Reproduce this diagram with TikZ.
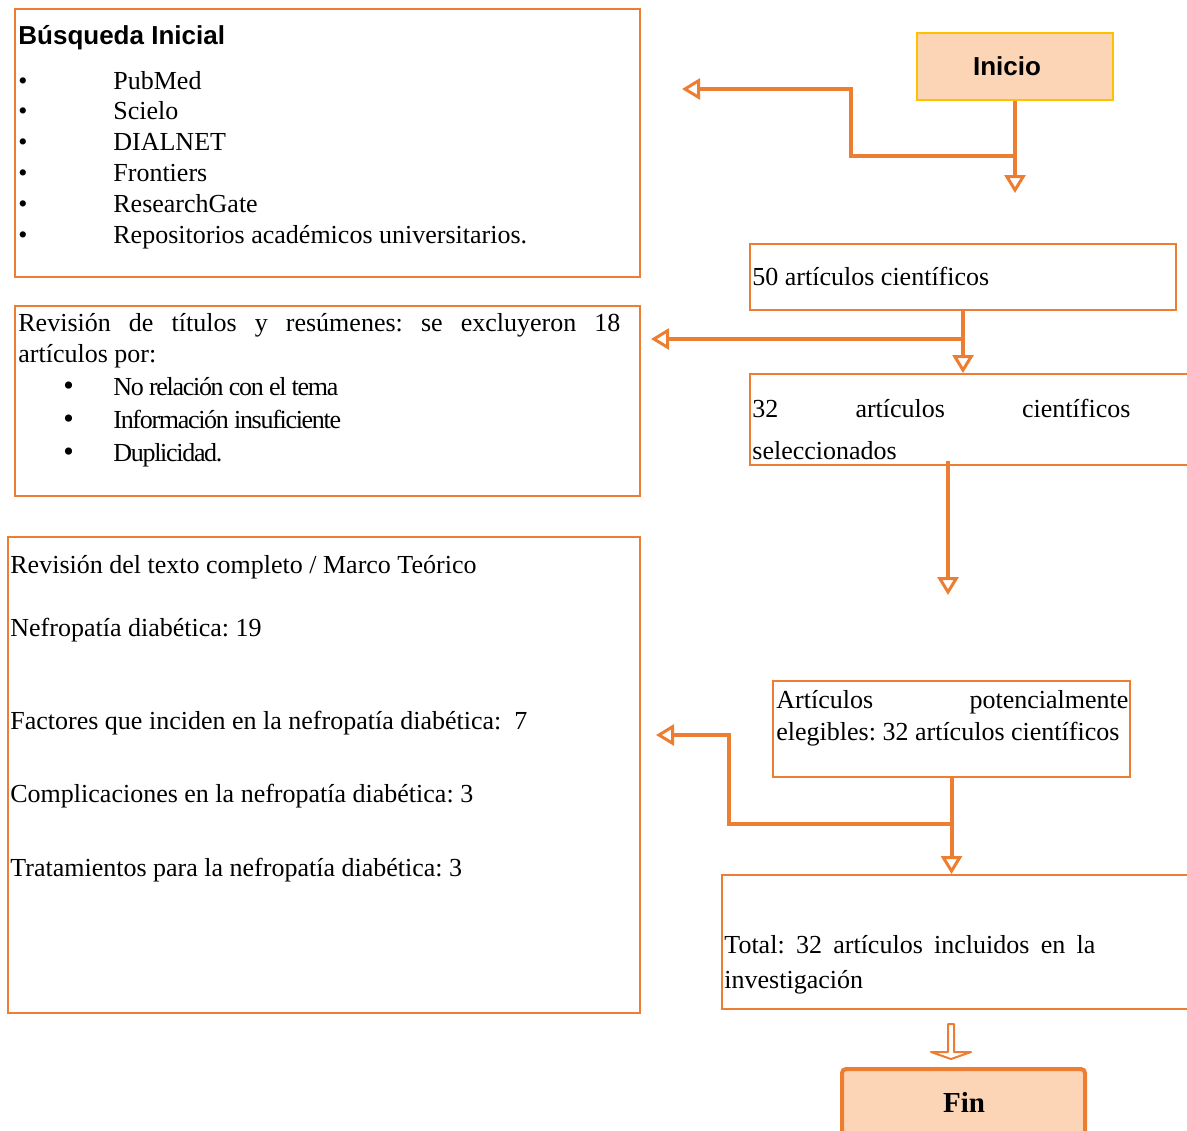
\documentclass[tikz,border=0pt]{standalone}
\usepackage{fontspec}
\setmainfont{Liberation Serif}
\newfontfamily\headsans{Liberation Sans}
\usetikzlibrary{arrows.meta, fit, calc}
\definecolor{flowline}{HTML}{ED7D31}
\definecolor{peach}{HTML}{FBD5B5}
\definecolor{gold}{HTML}{FFC000}
\frenchspacing

\begin{document}
\begin{tikzpicture}[x=0.5pt, y=-0.5pt,
    frame/.style={draw=flowline, line width=1pt, inner sep=0pt},
    terminal/.style={fill=peach, inner sep=0pt},
    txt/.style={anchor=base west, inner sep=0pt, font=\fontsize{13}{15}\selectfont},
    link/.style={draw=flowline, line width=2pt,
                 -{Triangle[open, length=9pt, width=10.5pt, line width=1.5pt]}}]
  \useasboundingbox (0,0) rectangle (1187,1130);

  % boxes
  \node[frame, fit={(15,9) (640,277)}] (search) {};
  \node[frame, fit={(15,306) (640,496)}] (titles) {};
  \node[frame, fit={(8,537) (640,1013)}] (fulltext) {};
  \node[terminal, draw=gold, line width=1pt, fit={(917,33) (1113,100)}] (start) {};
  \node[inner sep=0pt, font=\headsans\bfseries\fontsize{13}{15}\selectfont] (startlbl) at (1007,66) {Inicio};
  \node[frame, fit={(750,244) (1176,310)}] (n50) {};
  \node[frame, fit={(750,374) (1195,465)}] (n32) {};
  \node[frame, fit={(773,681) (1130,777)}] (elig) {};
  \node[frame, fit={(722,875) (1195,1009)}] (total) {};
  \node[terminal, draw=flowline, line width=2pt, rounded corners=2pt,
        fit={(842,1069) (1085,1150)}] (finish) {};
  \node[inner sep=0pt, font=\bfseries\fontsize{14.5}{16}\selectfont] (finlbl) at (964,1102) {Fin};

  % texts
  \node[txt, font=\headsans\bfseries\fontsize{13}{15}\selectfont] (searchttl) at (18,44) {Búsqueda Inicial};
  \foreach \src [count=\i] in {PubMed, Scielo, DIALNET, Frontiers, ResearchGate, Repositorios académicos universitarios.}
    \node[txt] (src\i) at (18,{89+30.8*(\i-1)}) {\makebox[47.5pt][l]{\textbullet}\src};

  \node[txt] (titl1) at (18,331) {\makebox[301pt][s]{Revisión de títulos y resúmenes: se excluyeron 18}};
  \node[txt] (titl2) at (18,362) {artículos por:};
  \foreach \why [count=\i] in {No relación con el tema, Información insuficiente, Duplicidad.}
    \node[txt] (why\i) at (63,{395+33*(\i-1)})
      {\makebox[25pt][l]{\fontsize{15}{15}\selectfont\textbullet}\addfontfeature{LetterSpace=-5}\why};

  \node[txt] (ft1) at (10,573) {Revisión del texto completo / Marco Teórico};
  \node[txt] (ft2) at (10,636) {Nefropatía diabética: 19};
  \node[txt] (ft3) at (10,729) {Factores que inciden en la nefropatía diabética:\ \ 7};
  \node[txt] (ft4) at (10,802) {Complicaciones en la nefropatía diabética: 3};
  \node[txt] (ft5) at (10,876) {Tratamientos para la nefropatía diabética: 3};

  \node[txt] (n50lbl) at (752,285) {50 artículos científicos};
  \node[txt] (n32lbl) at (752,417) {\makebox[189pt][s]{32 artículos científicos}};
  \node[txt] (n32lblb) at (752,459) {seleccionados};
  \node[txt] (eliglbl) at (776,708) {\makebox[176pt][s]{Artículos potencialmente}};
  \node[txt] (eliglblb) at (776,740) {elegibles: 32 artículos científicos};
  \node[txt] (totlbl) at (724,953) {\makebox[185.5pt][s]{Total: 32 artículos incluidos en la}};
  \node[txt] (totlblb) at (724,988) {investigación};

  % connectors
  \coordinate (startend) at ([yshift=-46pt]start.south);
  \coordinate (j1) at ([yshift=-27.5pt]start.south);
  \coordinate (knee1) at (851,89);
  \coordinate (searchtip) at (682,89);
  \draw[link] (start.south) -- (startend);
  \draw[link] (j1) -| (knee1) -- (searchtip);

  \coordinate (j2) at ([yshift=-14pt]n50.south);
  \draw[link] (n50.south) -- (n50.south |- n32.north);
  \draw[link] (j2) -- ($(titles.east |- j2)+(10,0)$);

  \coordinate (gapend) at (948,595);
  \draw[link] ($(gapend |- n32.south)+(0,-5)$) -- (gapend);

  \coordinate (j4) at ([yshift=-23pt]elig.south);
  \coordinate (knee4) at (729,735);
  \coordinate (fulltip) at (656,735);
  \draw[link] (elig.south) -- (elig.south |- total.north);
  \draw[link] (j4) -| (knee4) -- (fulltip);

  \draw[flowline, line width=1pt, line join=round]
    (948,1024) -- (948,1052) -- (931,1052) -- (951,1059) -- (971,1052) -- (954,1052) -- (954,1024) -- cycle;
\end{tikzpicture}
\end{document}
